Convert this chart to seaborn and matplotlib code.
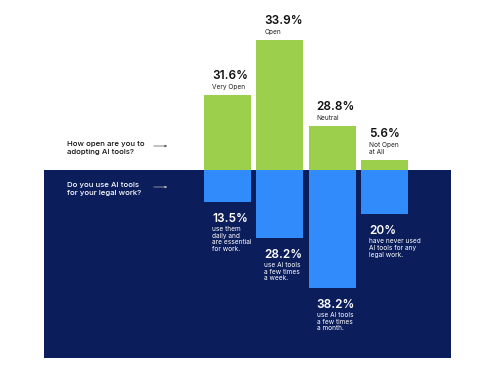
import matplotlib
matplotlib.use("Agg")
import matplotlib.pyplot as plt
from matplotlib.patches import Rectangle, FancyArrowPatch
import seaborn as sns

# Datos
categories = ["Very Open", "Open", "Neutral", "Not Open at All"]
open_pct = ["31.6%", "33.9%", "28.8%", "5.6%"]
open_desc = ["Very Open", "Open", "Neutral", "Not Open\nat All"]
open_bar = [75, 130, 44, 10]          # altura dibujada (no proporcional en el original)
use_pct = ["13.5%", "28.2%", "38.2%", "20%"]
use_desc = [
    "use them\ndaily and\nare essential\nfor work.",
    "use AI tools\na few times\na week.",
    "use AI tools\na few times\na month.",
    "have never used\nAI tools for any\nlegal work.",
]
use_bar = [32, 68, 118, 44]

GREEN = "#9ccf4c"
BLUE = "#318bfb"
NAVY = "#0b1d5b"

sns.set_style("white")
plt.rcParams["font.family"] = ["Inter", "DejaVu Sans"]

W, H = 480, 381
fig = plt.figure(figsize=(W / 100, H / 100), dpi=100)
ax = fig.add_axes([0, 0, 1, 1])

step = 52.33  # px entre centros de barra
x0 = 227.5    # px del centro de la primera barra
base = 170    # px (desde arriba) de la línea base


def px_x(p):
    return (p - x0) / step


sns.barplot(x=categories, y=open_bar, order=categories, color=GREEN,
            saturation=1, width=0.9, linewidth=0, ax=ax, zorder=2)
sns.barplot(x=categories, y=[-v for v in use_bar], order=categories, color=BLUE,
            saturation=1, width=0.9, linewidth=0, ax=ax, zorder=2)

ax.set_xlim(px_x(0), px_x(W))
ax.set_ylim(-(H - base), base)
ax.add_patch(Rectangle((px_x(44), -188), px_x(451) - px_x(44), 188,
                       facecolor=NAVY, edgecolor="none", zorder=1))
ax.axis("off")

left = -0.45 + 8 / step
for i in range(len(categories)):
    n = open_desc[i].count("\n") + 1
    ax.text(i + left, open_bar[i] + 5, open_desc[i], fontsize=4.7,
            color="#222222", va="bottom", ha="left", linespacing=1.15)
    ax.text(i + left, open_bar[i] + 5 + 7 * n + 1, open_pct[i], fontsize=8.5,
            fontweight="semibold", color="#111111", va="bottom", ha="left")
    ax.text(i + left, -use_bar[i] - 11, use_pct[i], fontsize=8.5,
            fontweight="semibold", color="white", va="top", ha="left")
    ax.text(i + left, -use_bar[i] - 24, use_desc[i], fontsize=4.7,
            color="white", va="top", ha="left", linespacing=1.15)

# Preguntas a la izquierda
fig.text(67 / W, 1 - 141 / H, "How open are you to\nadopting AI tools?",
         fontsize=5.6, fontweight="medium", color="#111111",
         va="top", ha="left", linespacing=1.45)
fig.text(67 / W, 1 - 182 / H, "Do you use AI tools\nfor your legal work?",
         fontsize=5.6, fontweight="medium", color="white",
         va="top", ha="left", linespacing=1.45)
for y, c in [(146, "#555555"), (187, "#bbbbbb")]:
    fig.add_artist(FancyArrowPatch(
        (151 / W, 1 - y / H), (170 / W, 1 - y / H),
        transform=fig.transFigure, arrowstyle="-|>", mutation_scale=3,
        lw=0.5, color=c))

fig.savefig("out.png", dpi=100)
